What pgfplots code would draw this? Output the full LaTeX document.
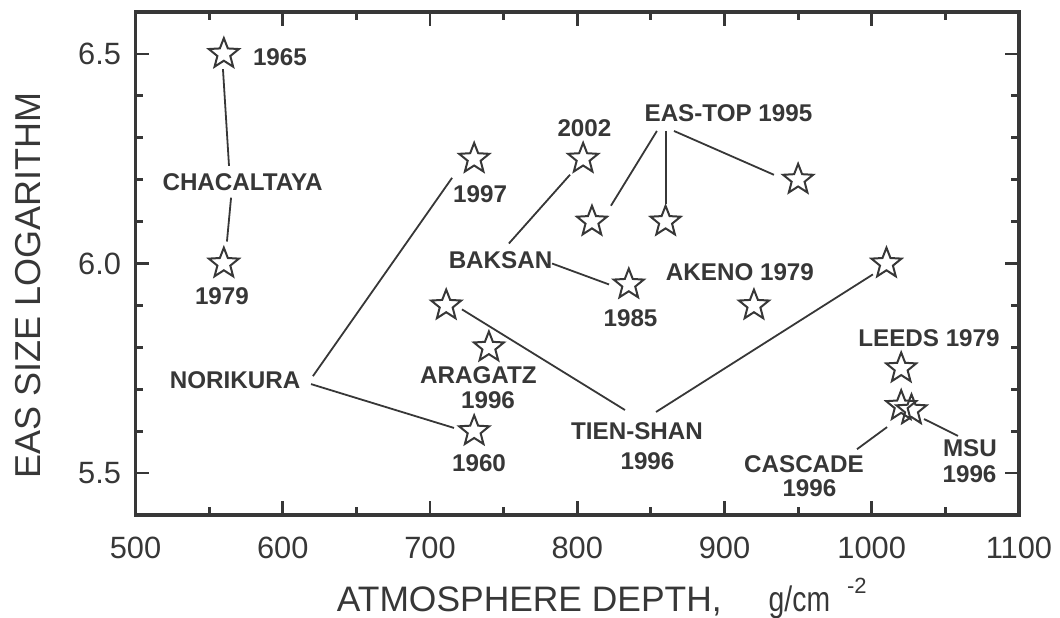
\documentclass[border=0pt]{standalone}
\usepackage{fontspec}
\setmainfont{Liberation Sans}
\usepackage{pgfplots}
\pgfplotsset{compat=1.18}
\definecolor{dk}{RGB}{55,55,55}
\tikzset{
  ann/.style={font=\fontsize{12.1}{13}\selectfont\bfseries, text=dk, inner sep=0pt, anchor=center},
  conn/.style={dk, line width=0.9pt},
}

\pgfdeclareplotmark{ostar}{%
 \pgfpathmoveto{\pgfpointpolar{90}{\pgfplotmarksize}}%
 \pgfpathlineto{\pgfpointpolar{126}{0.43\pgfplotmarksize}}%
 \pgfpathlineto{\pgfpointpolar{162}{\pgfplotmarksize}}%
 \pgfpathlineto{\pgfpointpolar{198}{0.43\pgfplotmarksize}}%
 \pgfpathlineto{\pgfpointpolar{234}{\pgfplotmarksize}}%
 \pgfpathlineto{\pgfpointpolar{270}{0.43\pgfplotmarksize}}%
 \pgfpathlineto{\pgfpointpolar{306}{\pgfplotmarksize}}%
 \pgfpathlineto{\pgfpointpolar{342}{0.43\pgfplotmarksize}}%
 \pgfpathlineto{\pgfpointpolar{18}{\pgfplotmarksize}}%
 \pgfpathlineto{\pgfpointpolar{54}{0.43\pgfplotmarksize}}%
 \pgfpathclose
 \pgfusepathqstroke}

\begin{document}
\begin{tikzpicture}
\begin{axis}[
  width=441.75pt, height=251.5pt, scale only axis,
  xmin=500, xmax=1100, ymin=5.4, ymax=6.6,
  xtick={500,600,...,1100}, ytick={5.5,6.0,6.5},
  minor x tick num=1, minor y tick num=4,
  tick align=inside, major tick length=7pt, minor tick length=3.8pt,
  axis line style={line width=1.6pt, draw=dk},
  tick style={line width=1.4pt, draw=dk},
  /pgf/number format/assume math mode=true,
  xticklabel style={font=\fontsize{15.4}{17}\selectfont, text=dk, yshift=-7.4pt,
     /pgf/number format/1000 sep={}},
  yticklabel style={font=\fontsize{15.4}{17}\selectfont, text=dk, xshift=-3.7pt,
     /pgf/number format/.cd, fixed, fixed zerofill, precision=1},
  clip=false,
]
% stars
\addplot[only marks, mark=ostar, mark size=7.9pt, draw=dk, line width=1pt,
  mark options={line join=miter, draw=dk}] coordinates {
  (560,6.5) (560,6.0) (730,6.25) (730,5.6) (804,6.25) (835,5.95)
  (810,6.1) (860,6.1) (950,6.2) (920,5.9) (711,5.9) (1010,6.0)
  (740,5.8) (1020,5.75) (1020,5.66) (1027,5.65)};
% connectors
\addplot[conn, no marks] coordinates {(559.4,6.4636) (563.5,6.233)};
\addplot[conn, no marks] coordinates {(564.9,6.157) (562.1,6.0524)};
\addplot[conn, no marks] coordinates {(620.5,5.7313) (715.0,6.2044)};
\addplot[conn, no marks] coordinates {(619.2,5.7123) (716.3,5.6077)};
\addplot[conn, no marks] coordinates {(753.6,6.0478) (795.1,6.2118)};
\addplot[conn, no marks] coordinates {(782.9,6.0) (821.6,5.95)};
\addplot[conn, no marks] coordinates {(854.1,6.3162) (822.9,6.1379)};
\addplot[conn, no marks] coordinates {(860.3,6.3162) (860.3,6.1426)};
\addplot[conn, no marks] coordinates {(865.7,6.3162) (933.6,6.2116)};
\addplot[conn, no marks] coordinates {(721.7,5.8906) (832.4,5.6505)};
\addplot[conn, no marks] coordinates {(853.5,5.6458) (1000.8,5.974)};
\addplot[conn, no marks] coordinates {(990.0,5.557) (1010.4,5.6097)};
\addplot[conn, no marks] coordinates {(1035.5,5.629) (1058.6,5.5887)};
% annotations
\node[ann] at (axis cs:598.1,6.492) {1965};
\node[ann] at (axis cs:572.7,6.195) {CHACALTAYA};
\node[ann] at (axis cs:558.7,5.9215) {1979};
\node[ann] at (axis cs:567.6,5.7206) {NORIKURA};
\node[ann] at (axis cs:734.0,6.1664) {1997};
\node[ann] at (axis cs:804.9,6.3233) {2002};
\node[ann] at (axis cs:902.7,6.3578) {EAS-TOP 1995};
\node[ann] at (axis cs:747.9,6.0083) {BAKSAN};
\node[ann] at (axis cs:836.2,5.8692) {1985};
\node[ann] at (axis cs:910.5,5.9786) {AKENO 1979};
\node[ann] at (axis cs:732.9,5.7337) {ARAGATZ};
\node[ann] at (axis cs:739.4,5.6743) {1996};
\node[ann] at (axis cs:733.3,5.5228) {1960};
\node[ann] at (axis cs:840.6,5.6006) {TIEN-SHAN};
\node[ann] at (axis cs:847.7,5.5292) {1996};
\node[ann] at (axis cs:1038.9,5.8224) {LEEDS 1979};
\node[ann] at (axis cs:954.0,5.5221) {CASCADE};
\node[ann] at (axis cs:957.7,5.4634) {1996};
\node[ann] at (axis cs:1066.7,5.5602) {MSU};
\node[ann] at (axis cs:1066.4,5.4983) {1996};
% axis labels
\node[anchor=base west, inner sep=0pt, font=\fontsize{17.7}{19}\selectfont, text=dk]
  at ([yshift=-48.3pt]axis description cs:0.2275,0)
  {ATMOSPHERE DEPTH,\hspace{23.5pt}\scalebox{0.8}[1]{g/cm}\hspace{8.5pt}\raisebox{9pt}{\fontsize{11}{12}\selectfont -2}};
\node[rotate=90, anchor=base, inner sep=0pt, font=\fontsize{18}{20}\selectfont, text=dk]
  at ([xshift=-47.25pt]axis description cs:0,0.457) {EAS SIZE LOGARITHM};
\end{axis}
\pgfresetboundingbox
\path[use as bounding box] (-67.75pt,-51pt) rectangle (462.25pt,257.5pt);
\end{tikzpicture}
\end{document}
